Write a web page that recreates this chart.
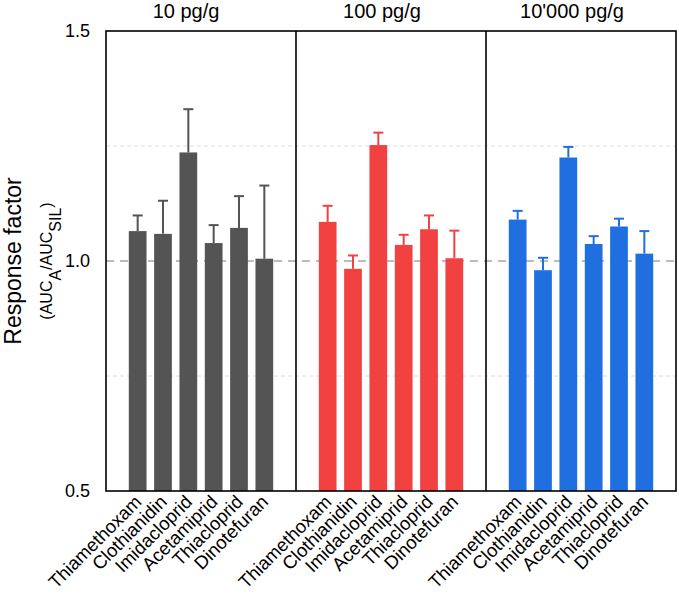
<!DOCTYPE html>
<html>
<head>
<meta charset="utf-8">
<script src="https://cdn.jsdelivr.net/npm/d3@7"></script>
<style>
  body { margin: 0; background: #fff; }
  text { font-family: "Liberation Sans", Arial, sans-serif; fill: #000; }
</style>
</head>
<body>
<div id="chart"></div>
<script>
const compounds = ["Thiamethoxam", "Clothianidin", "Imidacloprid", "Acetamiprid", "Thiacloprid", "Dinotefuran"];
const concentrations = ["10 pg/g", "100 pg/g", "10'000 pg/g"];
const colors = ["#545454", "#f24141", "#1f6fe1"];

// mean response factor and upper error, per concentration
const mean10 = [1.065, 1.059, 1.236, 1.039, 1.072, 1.005];
const err10 = [0.034, 0.072, 0.094, 0.039, 0.069, 0.159];
const mean100 = [1.085, 0.983, 1.252, 1.035, 1.069, 1.006];
const err100 = [0.035, 0.029, 0.027, 0.022, 0.030, 0.060];
const mean10000 = [1.090, 0.980, 1.225, 1.037, 1.075, 1.016];
const err10000 = [0.019, 0.027, 0.023, 0.017, 0.017, 0.049];

const yTicks = [0.5, 1.0, 1.5];
const gridMinor = [0.75, 1.25];

const width = 679,
  height = 595;
const margin = { top: 31, right: 3, bottom: 104, left: 106 };

const means = [mean10, mean100, mean10000];
const errs = [err10, err100, err10000];

const svg = d3
  .select("#chart")
  .append("svg")
  .attr("width", width)
  .attr("height", height);

const y = d3
  .scaleLinear()
  .domain([0.5, 1.5])
  .range([height - margin.bottom, margin.top]);

const panel = d3
  .scaleBand()
  .domain(concentrations)
  .range([margin.left, width - margin.right]);

const x = d3
  .scaleBand()
  .domain(compounds)
  .range([0, panel.bandwidth()])
  .paddingInner(0.3)
  .paddingOuter(0.9);

// light dotted guides
svg
  .append("g")
  .selectAll("line")
  .data(gridMinor)
  .join("line")
  .attr("x1", margin.left)
  .attr("x2", width - margin.right)
  .attr("y1", (d) => y(d))
  .attr("y2", (d) => y(d))
  .attr("stroke", "#dcdcdc")
  .attr("stroke-width", 1)
  .attr("stroke-dasharray", "4,3");

// reference line at 1.0
svg
  .append("line")
  .attr("x1", margin.left)
  .attr("x2", width - margin.right)
  .attr("y1", y(1))
  .attr("y2", y(1))
  .attr("stroke", "#bcbcbc")
  .attr("stroke-width", 2)
  .attr("stroke-dasharray", "8,6");

concentrations.forEach((c, i) => {
  const g = svg.append("g").attr("transform", `translate(${panel(c)},0)`);
  const rows = compounds.map((name, j) => ({ name, v: means[i][j], e: errs[i][j] }));

  // error bars (upper)
  g.append("g")
    .selectAll("line")
    .data(rows)
    .join("line")
    .attr("x1", (d) => x(d.name) + x.bandwidth() / 2)
    .attr("x2", (d) => x(d.name) + x.bandwidth() / 2)
    .attr("y1", (d) => y(d.v))
    .attr("y2", (d) => y(d.v + d.e))
    .attr("stroke", colors[i])
    .attr("stroke-width", 2);

  g.append("g")
    .selectAll("line")
    .data(rows)
    .join("line")
    .attr("x1", (d) => x(d.name) + x.bandwidth() / 2 - 5)
    .attr("x2", (d) => x(d.name) + x.bandwidth() / 2 + 5)
    .attr("y1", (d) => y(d.v + d.e))
    .attr("y2", (d) => y(d.v + d.e))
    .attr("stroke", colors[i])
    .attr("stroke-width", 2);

  g.append("g")
    .selectAll("rect")
    .data(rows)
    .join("rect")
    .attr("x", (d) => x(d.name))
    .attr("width", x.bandwidth())
    .attr("y", (d) => y(d.v))
    .attr("height", (d) => y(0.5) - y(d.v))
    .attr("fill", colors[i]);

  // compound labels
  g.append("g")
    .selectAll("text")
    .data(compounds)
    .join("text")
    .attr(
      "transform",
      (d) => `translate(${x(d) + x.bandwidth() / 2 + 5},${y(0.5) + 12}) rotate(-45)`
    )
    .attr("text-anchor", "end")
    .attr("font-size", 18.5)
    .text((d) => d);

  g.append("text")
    .attr("x", panel.bandwidth() / 2 - (i === 0 ? 15 : 9))
    .attr("y", 18)
    .attr("text-anchor", "middle")
    .attr("font-size", 20)
    .text(c);
});

// frame and panel dividers
svg
  .append("rect")
  .attr("x", margin.left)
  .attr("y", margin.top)
  .attr("width", width - margin.left - margin.right)
  .attr("height", height - margin.top - margin.bottom)
  .attr("fill", "none")
  .attr("stroke", "#000")
  .attr("stroke-width", 1.6);

svg
  .append("g")
  .selectAll("line")
  .data(concentrations.slice(1))
  .join("line")
  .attr("x1", (d) => panel(d))
  .attr("x2", (d) => panel(d))
  .attr("y1", margin.top)
  .attr("y2", height - margin.bottom)
  .attr("stroke", "#000")
  .attr("stroke-width", 1.6);

// y tick labels
svg
  .append("g")
  .selectAll("text")
  .data(yTicks)
  .join("text")
  .attr("x", margin.left - 16)
  .attr("y", (d) => y(d))
  .attr("dy", "0.35em")
  .attr("text-anchor", "end")
  .attr("font-size", 18)
  .text((d) => d.toFixed(1));

// y axis title
svg
  .append("text")
  .attr("transform", `translate(21,${y(1)}) rotate(-90)`)
  .attr("text-anchor", "middle")
  .attr("font-size", 23)
  .text("Response factor");

const sub = svg
  .append("text")
  .attr("transform", `translate(52,${y(1)}) rotate(-90)`)
  .attr("text-anchor", "middle")
  .attr("font-size", 16);
sub.append("tspan").text("(AUC");
sub.append("tspan").attr("baseline-shift", "sub").text("A");
sub.append("tspan").text("/AUC");
sub.append("tspan").attr("baseline-shift", "sub").text("SIL");
sub.append("tspan").text(")");
</script>
</body>
</html>
